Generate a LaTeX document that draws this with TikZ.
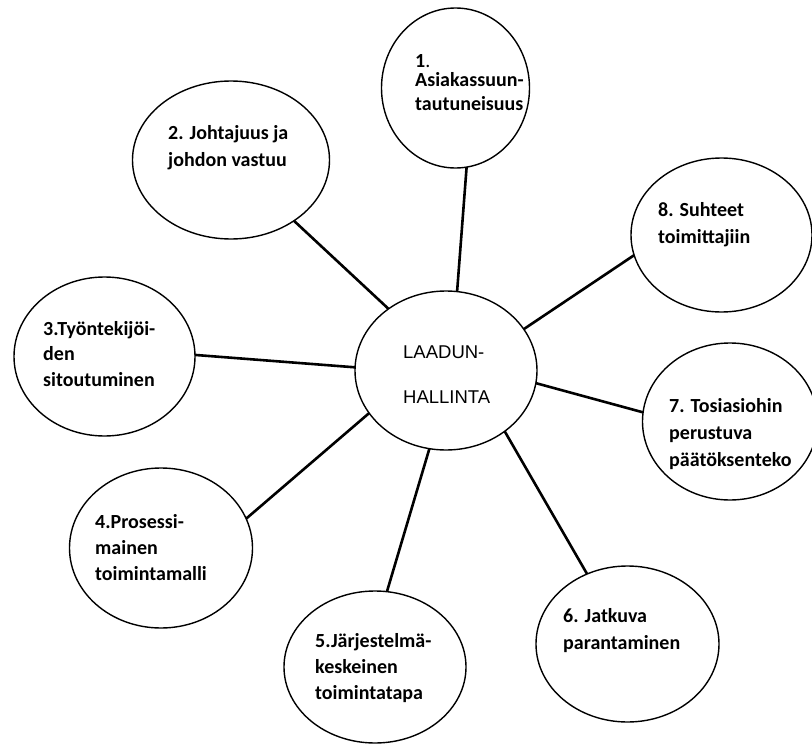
\documentclass[tikz,border=0pt]{standalone}
\usepackage{fontspec}
\setmainfont{Carlito}
\newfontfamily\hubfont{Liberation Sans}
\usetikzlibrary{shapes.geometric}
\begin{document}
\begin{tikzpicture}[x=1pt,y=-1pt,
  bubble/.style={ellipse,draw,line width=1.4pt,inner sep=0pt,outer sep=0pt},
  link/.style={line width=2.6pt},
  % labels are anchored at the baseline of their last line
  lbl/.style={anchor=base west,align=left,inner sep=0pt,
    font=\bfseries\fontsize{20}{27}\selectfont},
]
\useasboundingbox (0,0) rectangle (812,744);

% central ellipse
\node[bubble,minimum width=182pt,minimum height=159pt] (hub) at (446,370.5) {};
\node[anchor=base west,align=left,inner sep=0pt,
      font=\hubfont\fontsize{18.5}{45}\selectfont] (hubtext) at (403,403)
      {LAADUN-\\HALLINTA};

% surrounding principles
\node[bubble,minimum width=148pt,minimum height=160pt] (e1) at (455.5,88) {};
\node[bubble,minimum width=197pt,minimum height=158pt] (e2) at (231,160) {};
\node[bubble,minimum width=181pt,minimum height=159pt] (e3) at (104.5,356.5) {};
\node[bubble,minimum width=183pt,minimum height=160pt] (e4) at (161,548) {};
\node[bubble,minimum width=182pt,minimum height=152pt] (e5) at (375,667) {};
\node[bubble,minimum width=183pt,minimum height=156pt] (e6) at (627.5,644) {};
\node[bubble,minimum width=175pt,minimum height=157pt] (e7) at (730,421.5) {};
\node[bubble,minimum width=181pt,minimum height=154pt] (e8) at (721.5,235) {};

% labels
\node[lbl,font=\bfseries\fontsize{20}{24}\selectfont] (t1) at (415,110)
  {1{\mdseries.}\\[-5pt]Asiakassuun-\\tautuneisuus};
\node[lbl] (t2) at (168,166) {2. Johtajuus ja\\johdon vastuu};
\node[lbl,font=\bfseries\fontsize{20}{25.5}\selectfont] (t3) at (43,386)
  {3.Työntekijöi-\\den\\sitoutuminen};
\node[lbl,font=\bfseries\fontsize{20}{26}\selectfont] (t4) at (95,580)
  {4.Prosessi-\\mainen\\toimintamalli};
\node[lbl,font=\bfseries\fontsize{20}{26}\selectfont] (t5) at (315,699)
  {5.Järjestelmä-\\keskeinen\\toimintatapa};
\node[lbl,font=\bfseries\fontsize{20}{26.5}\selectfont] (t6) at (563,649)
  {6. Jatkuva\\parantaminen};
\node[lbl] (t7) at (669,466) {7. Tosiasiohin\\perustuva\\päätöksenteko};
\node[lbl] (t8) at (658,243) {8. Suhteet\\toimittajiin};

% spokes
\draw[link] (hub.82.2)   -- (e1.-82.9);
\draw[link] (hub.133.2)  -- (e2.-44);
\draw[link] (hub.178)    -- (e3.1);
\draw[link] (hub.-151)   -- (e4.19.7);
\draw[link] (hub.-102.2) -- (e5.81.1);
\draw[link] (hub.-46.3)  -- (e6.120.8);
\draw[link] (hub.-8.7)   -- (e7.174);
\draw[link] (hub.28.9)   -- (e8.193.7);
\end{tikzpicture}
\end{document}
